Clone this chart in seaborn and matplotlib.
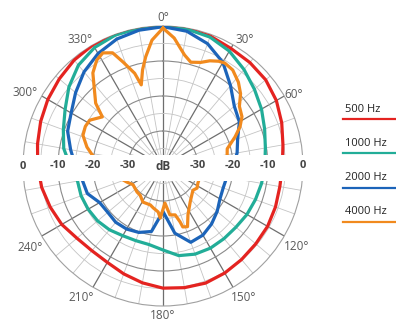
import numpy as np
import pandas as pd
import matplotlib
matplotlib.use("Agg")
import matplotlib.pyplot as plt
import seaborn as sns
from matplotlib.patches import Rectangle
from matplotlib.lines import Line2D

# ---------------- data (dB vs angle, 0 deg at top, clockwise) ----------------
angles = [0, 10, 20, 30, 40, 50, 60, 70, 80, 90, 100, 110, 120, 130, 140, 150, 160, 170,
          180, 190, 200, 210, 220, 230, 240, 250, 260, 270, 280, 290, 300, 310, 320, 330, 340, 350, 360]

db_500 = [0, -0.2, -0.5, -1.2, -1.4, -1.7, -2.6, -3.9, -5.2, -5.9, -6.1, -5.8, -5.5, -5.4, -5.1, -4.7, -4.4, -4.7,
          -5.1, -6.1, -7.2, -8.2, -8.4, -7.9, -6.6, -5.7, -4.8, -4.2, -3.6, -2.8, -2.0, -1.3, -0.5, 0, 0, 0, 0]

db_1000 = [0, -0.3, -0.8, -2.1, -4.0, -5.9, -7.5, -9.1, -10.3, -10.9, -11.4, -11.9, -12.3, -12.8, -12.9, -12.9, -13.2, -14.0,
           -16.0, -17.2, -17.3, -17.0, -16.2, -15.6, -15.3, -15.1, -15.2, -13.5, -11.2, -9.7, -7.7, -4.9, -2.4, -0.9, -0.2, 0, 0]

db_2000 = [-0.2, -0.9, -2.8, -5.8, -10.0, -13.4, -14.8, -17.3, -18.5, -20.0, -21.5, -21.7, -21.2, -19.8, -18.4, -17.2, -16.8, -20.5,
           -27.0, -21.0, -19.8, -19.2, -19.0, -19.4, -19.1, -17.0, -16.6, -15.0, -13.2, -11.0, -9.7, -7.4, -4.9, -2.9, -1.4, -0.6, -0.2]

angles_4000 = [0, 5, 8, 11, 15, 20, 24, 28, 31, 36, 42, 47, 52, 58, 63, 68, 75, 82, 95, 105, 116, 123, 129, 143,
               153, 158, 162, 163, 166, 172, 177, 183, 186, 193, 198, 209, 218, 225, 238, 246, 265, 279, 284, 291,
               297, 302, 309, 313, 319, 323, 328, 332, 336, 339, 343, 345, 348, 351, 355, 360]
db_4000 = [-0.6, -3.3, -5.7, -7.7, -9.3, -8.5, -7.1, -6.1, -5.7, -6.1, -7.8, -9.7, -12.3, -13.4, -15.3, -17.8, -21.0, -21.5,
           -27.0, -29.0, -28.9, -28.4, -29.0, -27.1, -24.3, -21.3, -21.7, -23.3, -25.6, -25.9, -29.4, -25.1, -26.8, -27.7,
           -28.3, -28.2, -29.4, -29.5, -29.9, -28.7, -24.0, -19.5, -17.6, -15.5, -15.1, -15.3, -17.7, -13.7, -10.0, -6.7,
           -4.3, -3.4, -4.6, -8.2, -12.3, -16.0, -11.9, -8.4, -3.9, -0.6]

series_names = ["500 Hz", "1000 Hz", "2000 Hz", "4000 Hz"]
series_colors = ["#e42320", "#22ad98", "#1c64b9", "#f18a1e"]

angle_labels = ["0°", "30°", "60°", "120°", "150°", "180°", "210°", "240°", "300°", "330°"]
angle_label_deg = [0, 30, 60, 120, 150, 180, 210, 240, 300, 330]
radial_labels = ["0", "-10", "-20", "-30"]
radial_values = [0, -10, -20, -30]

# layout (label placement, not data)
angle_label_layout = {0: (0, 2.4), 30: (33, 3.0), 60: (61.5, 2.6), 120: (121, 4.6), 150: (148.5, 3.9),
                      180: (180, 2.6), 210: (212, 4.2), 240: (238.5, 4.5), 300: (298, 4.6), 330: (326.5, 3.2)}

FONT = ["Open Sans", "DejaVu Sans"]

# ---------------- figure ----------------
fig = plt.figure(figsize=(3.96, 3.22), dpi=100)
ax = fig.add_axes([23 / 396, 1 - 306 / 322, 280 / 396, 280 / 322], projection="polar")
ax.set_theta_zero_location("N")
ax.set_theta_direction(-1)
ax.set_ylim(-40, 0)

frames = [
    pd.DataFrame({"theta": np.deg2rad(angles), "db": db_500}),
    pd.DataFrame({"theta": np.deg2rad(angles), "db": db_1000}),
    pd.DataFrame({"theta": np.deg2rad(angles), "db": db_2000}),
    pd.DataFrame({"theta": np.deg2rad(angles_4000), "db": db_4000}),
]
for df, col in zip(frames, series_colors):
    sns.lineplot(data=df, x="theta", y="db", ax=ax, sort=False, color=col, lw=2.3,
                 legend=False, zorder=3)

ax.set_xlabel("")
ax.set_ylabel("")

# grid
ax.set_xticks(np.deg2rad(np.arange(0, 360, 10)))
ax.set_xticklabels([])
ax.set_yticks([-35, -30, -25, -20, -15, -10, -5])
ax.set_yticklabels([])
ax.set_axisbelow(True)
for i, gl in enumerate(ax.xaxis.get_gridlines()):
    if (i * 10) % 30 == 0:
        gl.set_color("#6e6e6e"); gl.set_linewidth(0.9)
    else:
        gl.set_color("#c4c4c4"); gl.set_linewidth(0.6)
for v, gl in zip([-35, -30, -25, -20, -15, -10, -5], ax.yaxis.get_gridlines()):
    if v % 10 == 0:
        gl.set_color("#8a8a8a"); gl.set_linewidth(0.8)
    else:
        gl.set_color("#c4c4c4"); gl.set_linewidth(0.6)
    gl.set_linestyle("-")
ax.spines["polar"].set_color("#a0a0a0")
ax.spines["polar"].set_linewidth(0.8)
ax.tick_params(axis="both", length=0, pad=0)

# white band behind radial labels (inside the axes so the labels sit above it)
band = Rectangle((0, 1 - 181 / 322), 318 / 396, 26 / 322, transform=fig.transFigure,
                 facecolor="white", edgecolor="none", zorder=10, clip_on=False)
ax.add_patch(band)

# radial labels
for lab, v in zip(radial_labels, radial_values):
    for th in (270, 90):
        ax.text(np.deg2rad(th), v, lab, ha="center", va="center", fontsize=8,
                color="#444444", family=FONT, fontweight="bold", zorder=11, clip_on=False)
ax.text(0, -40, "dB", ha="center", va="center", fontsize=8.5, color="#444444",
        family=FONT, fontweight="bold", zorder=11, clip_on=False)

# angle labels
for lab, a in zip(angle_labels, angle_label_deg):
    th, r = angle_label_layout[a]
    ax.text(np.deg2rad(th), r, lab, ha="center", va="center", fontsize=8.5,
            color="#5a5a5a", family=FONT, clip_on=False)

# legend
text_y = [110, 143, 178, 212]
line_y = [119, 153, 188, 222]
for name, col, ty, ly in zip(series_names, series_colors, text_y, line_y):
    fig.text(345 / 396, 1 - ty / 322, name, ha="left", va="center", fontsize=8,
             color="#222222", family=FONT)
    fig.add_artist(Line2D([343 / 396, 1.0], [1 - ly / 322, 1 - ly / 322],
                          transform=fig.transFigure, color=col, lw=1.6))

fig.savefig("out.png", dpi=100)
